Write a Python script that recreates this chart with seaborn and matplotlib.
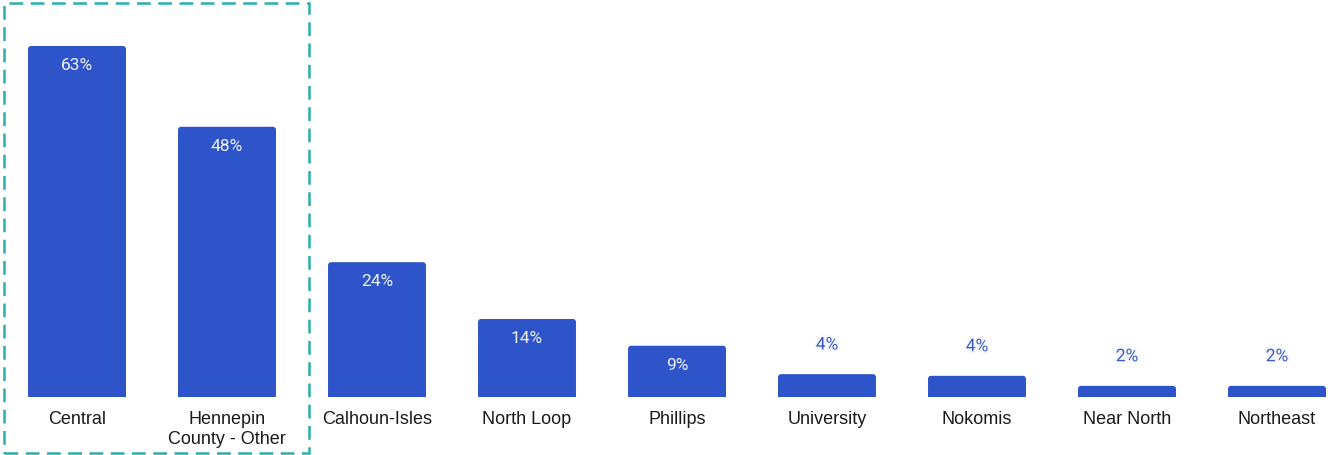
import matplotlib
matplotlib.use("Agg")
import matplotlib.pyplot as plt
import matplotlib.patheffects as pe
from matplotlib.patches import Rectangle, FancyBboxPatch
import seaborn as sns
import pandas as pd

categories = ["Central", "Hennepin\nCounty - Other", "Calhoun-Isles", "North Loop",
              "Phillips", "University", "Nokomis", "Near North", "Northeast"]
shares = [63, 48.5, 24.2, 14, 9.2, 4.1, 3.8, 2.0, 2.0]
value_labels = ["63%", "48%", "24%", "14%", "9%", "4%", "4%", "2%", "2%"]

BAR = "#2D54C9"
TEAL = "#29AEAA"

sns.set_theme(style="white")
plt.rcParams["font.family"] = ["Roboto", "DejaVu Sans"]

df = pd.DataFrame({"area": categories, "share": shares})

W, H = 1328, 455
fig = plt.figure(figsize=(W / 100, H / 100), dpi=100)
ax_h = 397
ax = fig.add_axes([0, 1 - ax_h / H, 1, ax_h / H])

sns.barplot(data=df, x="area", y="share", color=BAR, saturation=1,
            width=0.653, ax=ax)

x0, x1 = -77 / 150, (W - 77) / 150
y1 = 63 * ax_h / 351
ax.set_xlim(x0, x1)
ax.set_ylim(0, y1)

# give the bars softly rounded tops
x_per_px = (x1 - x0) / W
y_per_px = y1 / ax_h
for p in list(ax.patches):
    bx, by = p.get_x(), p.get_y()
    bw, bh = p.get_width(), p.get_height()
    ext = 5 * y_per_px
    rp = FancyBboxPatch((bx, by - ext), bw, bh + ext,
                        boxstyle=f"round,pad=0,rounding_size={3 * x_per_px}",
                        mutation_aspect=y_per_px / x_per_px,
                        facecolor=BAR, edgecolor="none")
    p.remove()
    ax.add_patch(rp)

for s in ax.spines.values():
    s.set_visible(False)
ax.set_xlabel("")
ax.set_ylabel("")
ax.set_yticks([])
ax.tick_params(axis="x", length=0, pad=10, colors="#1a1a1a")
for t in ax.get_xticklabels():
    t.set_fontfamily(["Liberation Sans", "DejaVu Sans"])
    t.set_fontsize(13)
    t.set_linespacing(1.22)
    t.set_verticalalignment("top")

for i, (v, lab) in enumerate(zip(shares, value_labels)):
    if v >= 8:
        ax.annotate(lab, (i, v), xytext=(0, -14), textcoords="offset points",
                    ha="center", va="center", fontsize=12.5, color="#F0F2FB")
    else:
        ax.annotate(lab, (i, v), xytext=(0, 21), textcoords="offset points",
                    ha="center", va="center", fontsize=12.5, color="#3C5CC4",
                    path_effects=[pe.withStroke(linewidth=3, foreground="#F4F6FC")])

# dashed frame around the two leading areas
frame = Rectangle((4 / W, 2 / H), 305 / W, 450 / H,
                  transform=fig.transFigure, fill=False, edgecolor=TEAL,
                  linewidth=1.8, linestyle=(0, (5.5, 3)), clip_on=False)
fig.patches.append(frame)

fig.savefig("out.png", dpi=100)
